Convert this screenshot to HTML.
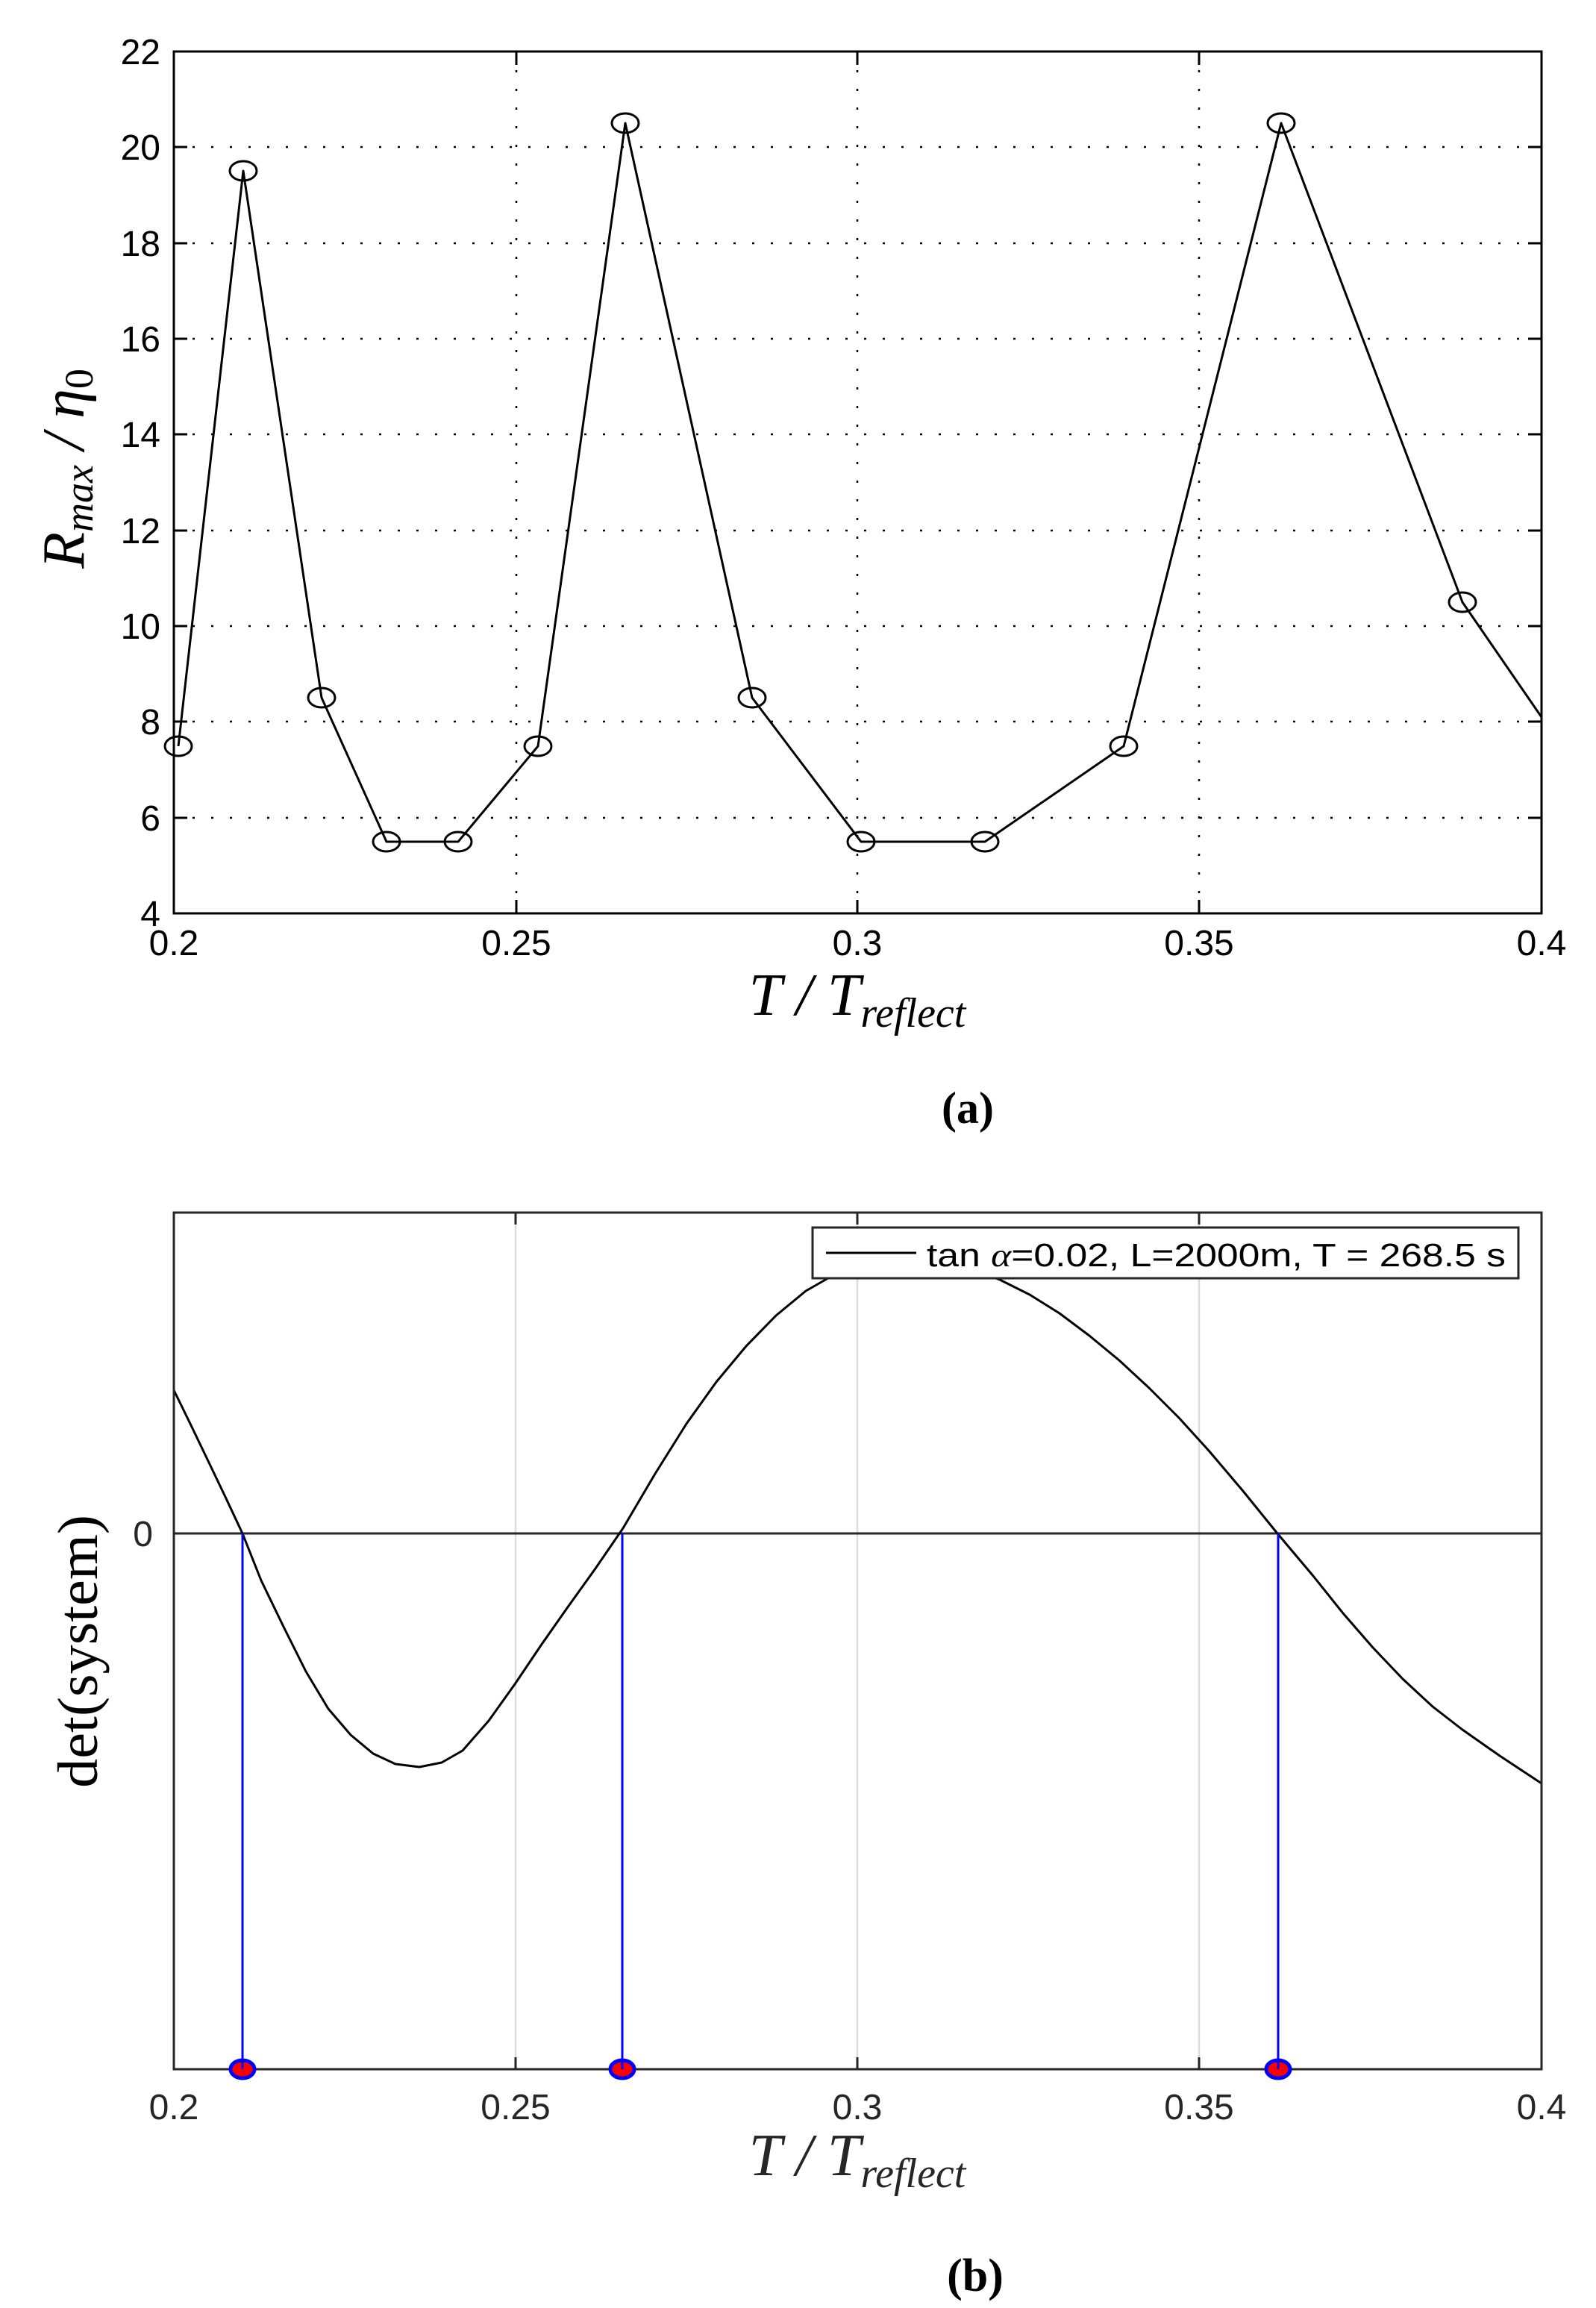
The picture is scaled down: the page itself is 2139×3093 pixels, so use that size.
<!DOCTYPE html>
<html><head><meta charset="utf-8"><style>
html,body{margin:0;padding:0;background:#fff;}
svg{display:block;}
</style></head><body>
<svg width="2139" height="3093" viewBox="0 0 2139 3093" xmlns="http://www.w3.org/2000/svg">
<rect width="2139" height="3093" fill="#fff"/>
<!-- ===== TOP PANEL ===== -->
<g stroke="#000" stroke-width="2.5" stroke-dasharray="3,22">
  <line x1="692" y1="69" x2="692" y2="1224"/>
  <line x1="1149" y1="69" x2="1149" y2="1224"/>
  <line x1="1607" y1="69" x2="1607" y2="1224"/>
  <line x1="233" y1="197" x2="2066" y2="197"/>
  <line x1="233" y1="326" x2="2066" y2="326"/>
  <line x1="233" y1="454" x2="2066" y2="454"/>
  <line x1="233" y1="582" x2="2066" y2="582"/>
  <line x1="233" y1="711" x2="2066" y2="711"/>
  <line x1="233" y1="839" x2="2066" y2="839"/>
  <line x1="233" y1="967" x2="2066" y2="967"/>
  <line x1="233" y1="1096" x2="2066" y2="1096"/>
</g>
<g stroke="#000" stroke-width="3">
  <path d="M233 197h18M233 326h18M233 454h18M233 582h18M233 711h18M233 839h18M233 967h18M233 1096h18
           M2066 197h-18M2066 326h-18M2066 454h-18M2066 582h-18M2066 711h-18M2066 839h-18M2066 967h-18M2066 1096h-18
           M692 1224v-18M1149 1224v-18M1607 1224v-18M692 69v18M1149 69v18M1607 69v18" fill="none"/>
  <rect x="233" y="69" width="1833" height="1155" fill="none"/>
</g>
<polyline fill="none" stroke="#000" stroke-width="3" stroke-linejoin="round"
 points="239,1000 326,229 431,935 518,1128 614,1128 721,1000 838,165 1008,935 1154,1128 1320,1128 1506,1000 1717,165 1960,807 2066,961"/>
<g fill="none" stroke="#000" stroke-width="3">
  <ellipse cx="239" cy="1000" rx="18" ry="13"/>
  <ellipse cx="326" cy="229" rx="18" ry="13"/>
  <ellipse cx="431" cy="935" rx="18" ry="13"/>
  <ellipse cx="518" cy="1128" rx="18" ry="13"/>
  <ellipse cx="614" cy="1128" rx="18" ry="13"/>
  <ellipse cx="721" cy="1000" rx="18" ry="13"/>
  <ellipse cx="838" cy="165" rx="18" ry="13"/>
  <ellipse cx="1008" cy="935" rx="18" ry="13"/>
  <ellipse cx="1154" cy="1128" rx="18" ry="13"/>
  <ellipse cx="1320" cy="1128" rx="18" ry="13"/>
  <ellipse cx="1506" cy="1000" rx="18" ry="13"/>
  <ellipse cx="1717" cy="165" rx="18" ry="13"/>
  <ellipse cx="1960" cy="807" rx="18" ry="13"/>
</g>
<g font-family="Liberation Sans, sans-serif" font-size="48" fill="#000" text-anchor="end">
  <text x="215" y="86">22</text>
  <text x="215" y="214">20</text>
  <text x="215" y="343">18</text>
  <text x="215" y="471">16</text>
  <text x="215" y="599">14</text>
  <text x="215" y="728">12</text>
  <text x="215" y="856">10</text>
  <text x="215" y="984">8</text>
  <text x="215" y="1113">6</text>
  <text x="215" y="1241">4</text>
</g>
<g font-family="Liberation Sans, sans-serif" font-size="48" fill="#000" text-anchor="middle">
  <text x="233" y="1280">0.2</text>
  <text x="692" y="1280">0.25</text>
  <text x="1149" y="1280">0.3</text>
  <text x="1607" y="1280">0.35</text>
  <text x="2066" y="1280">0.4</text>
</g>
<text transform="translate(112,628) rotate(-90)" text-anchor="middle" font-family="Liberation Serif, serif" font-style="italic" font-size="80" fill="#000">R<tspan font-size="54" dy="12">max</tspan><tspan dy="-12"> / η</tspan><tspan font-size="54" dy="12" font-style="normal">0</tspan></text>
<text x="1149" y="1360" text-anchor="middle" font-family="Liberation Serif, serif" font-style="italic" font-size="80" fill="#000">T / T<tspan font-size="56" dy="16">reflect</tspan></text>
<text x="1297" y="1505" text-anchor="middle" font-family="Liberation Serif, serif" font-weight="bold" font-size="60" fill="#000">(a)</text>

<!-- ===== BOTTOM PANEL ===== -->
<g stroke="#dcdcdc" stroke-width="2.5">
  <line x1="691" y1="1625" x2="691" y2="2773"/>
  <line x1="1149" y1="1625" x2="1149" y2="2773"/>
  <line x1="1607" y1="1625" x2="1607" y2="2773"/>
</g>
<line x1="233" y1="2055" x2="2066" y2="2055" stroke="#262626" stroke-width="3"/>
<polyline fill="none" stroke="#000" stroke-width="3" stroke-linejoin="round"
 points="233,1863 255,1908 280,1960 302,2006 325,2055 350,2118 380,2180 410,2240 440,2290 470,2325 500,2350 530,2364 562,2368 592,2362 620,2346 655,2306 690,2257 725,2205 760,2155 798,2102 835,2048 878,1975 920,1908 960,1852 1000,1804 1040,1763 1080,1730 1115,1710 1150,1698 1185,1690 1222,1688 1260,1691 1300,1700 1340,1715 1380,1735 1420,1760 1460,1790 1500,1823 1540,1860 1580,1900 1620,1944 1665,1997 1712,2055 1760,2112 1800,2162 1840,2208 1880,2250 1920,2287 1960,2318 2010,2353 2066,2390"/>
<g stroke="#0000ff" stroke-width="3">
  <line x1="325" y1="2055" x2="325" y2="2773"/>
  <line x1="834" y1="2055" x2="834" y2="2773"/>
  <line x1="1713" y1="2055" x2="1713" y2="2773"/>
</g>
<g stroke="#262626" stroke-width="3" fill="none">
  <path d="M691 2773v-16M1149 2773v-16M1607 2773v-16M691 1625v16M1149 1625v16M1607 1625v16M233 2055h16M2066 2055h-16"/>
  <rect x="233" y="1625" width="1833" height="1148"/>
</g>
<g fill="#ff0000" stroke="#0000ff" stroke-width="5">
  <ellipse cx="325" cy="2773" rx="16" ry="12"/>
  <ellipse cx="834" cy="2773" rx="16" ry="12"/>
  <ellipse cx="1713" cy="2773" rx="16" ry="12"/>
</g>
<g stroke="#0000ff" stroke-width="3">
  <line x1="325" y1="2760" x2="325" y2="2773"/>
  <line x1="834" y1="2760" x2="834" y2="2773"/>
  <line x1="1713" y1="2760" x2="1713" y2="2773"/>
</g>
<rect x="1089" y="1645" width="946" height="68" fill="#fff" stroke="#262626" stroke-width="3"/>
<line x1="1107" y1="1679" x2="1228" y2="1679" stroke="#000" stroke-width="3"/>
<text x="1242" y="1697" font-family="Liberation Sans, sans-serif" font-size="44" fill="#000" textLength="776" lengthAdjust="spacingAndGlyphs">tan <tspan font-family="Liberation Serif, serif" font-style="italic">α</tspan>=0.02, L=2000m, T = 268.5 s</text>
<g font-family="Liberation Sans, sans-serif" font-size="48" fill="#262626" text-anchor="middle">
  <text x="233" y="2840">0.2</text>
  <text x="691" y="2840">0.25</text>
  <text x="1149" y="2840">0.3</text>
  <text x="1607" y="2840">0.35</text>
  <text x="2066" y="2840">0.4</text>
</g>
<text x="205" y="2072" text-anchor="end" font-family="Liberation Sans, sans-serif" font-size="48" fill="#262626">0</text>
<text transform="translate(130,2213) rotate(-90)" text-anchor="middle" font-family="Liberation Serif, serif" font-size="76" fill="#000" textLength="366" lengthAdjust="spacingAndGlyphs">det(system)</text>
<text x="1149" y="2915" text-anchor="middle" font-family="Liberation Serif, serif" font-style="italic" font-size="80" fill="#262626">T / T<tspan font-size="56" dy="16">reflect</tspan></text>
<text x="1307" y="3070" text-anchor="middle" font-family="Liberation Serif, serif" font-weight="bold" font-size="62" fill="#000">(b)</text>
</svg>
</body></html>
